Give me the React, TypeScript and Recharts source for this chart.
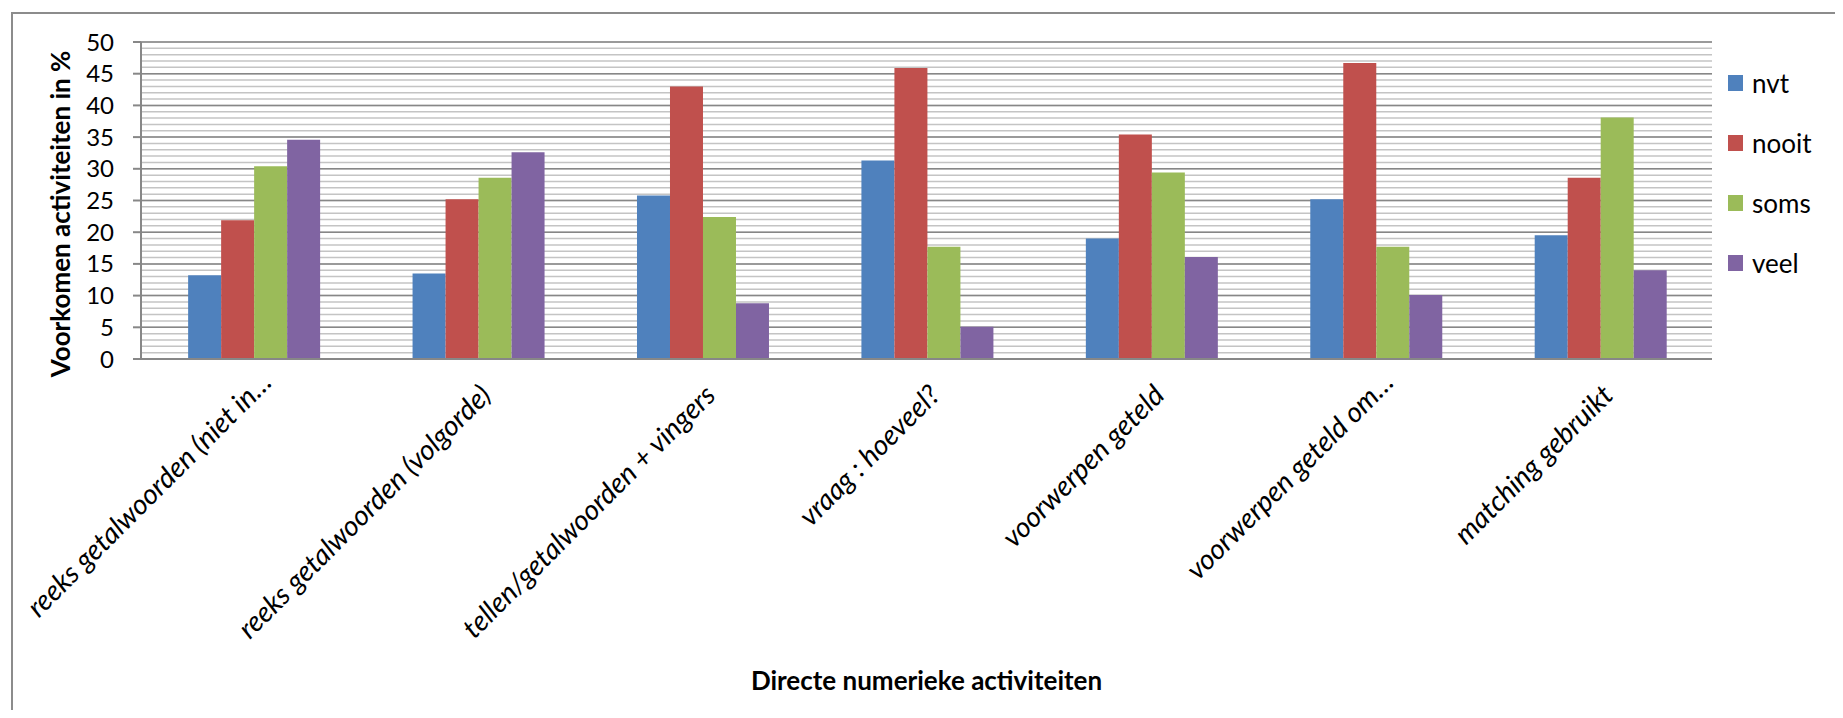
import { BarChart, Bar, XAxis, YAxis, CartesianGrid, Legend } from 'recharts';

const categories = [
  'reeks getalwoorden (niet in…',
  'reeks getalwoorden (volgorde)',
  'tellen/getalwoorden + vingers',
  'vraag : hoeveel?',
  'voorwerpen geteld',
  'voorwerpen geteld om…',
  'matching gebruikt',
];

const nvt = [13.2, 13.5, 25.8, 31.3, 19.0, 25.2, 19.5];
const nooit = [21.9, 25.2, 43.0, 45.9, 35.4, 46.7, 28.6];
const soms = [30.4, 28.6, 22.4, 17.7, 29.4, 17.7, 38.1];
const veel = [34.6, 32.6, 8.8, 5.1, 16.1, 10.1, 14.0];

const yTicks = [0, 5, 10, 15, 20, 25, 30, 35, 40, 45, 50];
// light helper lines at every whole percent
const minorLines = Array.from({ length: 51 }, (_, i) => i);

const series = [
  { key: 'nvt', name: 'nvt', color: '#4F81BD' },
  { key: 'nooit', name: 'nooit', color: '#C0504D' },
  { key: 'soms', name: 'soms', color: '#9BBB59' },
  { key: 'veel', name: 'veel', color: '#8064A2' },
];

const data = categories.map((name, i) => ({
  name,
  nvt: nvt[i],
  nooit: nooit[i],
  soms: soms[i],
  veel: veel[i],
}));

const FONT = 'Lato, "Open Sans", sans-serif';
const AXIS_GRAY = '#878787';
const LEGEND_W = 107;

function CategoryTick(props: any) {
  const { x, y, payload } = props;
  // shortened labels hang a bit closer to the axis
  const cut = String(payload.value).endsWith('…');
  const dx = cut ? 20 : 15;
  const dy = cut ? 25 : 38;
  return (
    <text
      transform={`translate(${x + dx}, ${y + dy}) rotate(-45)`}
      textAnchor="end"
      fontFamily={FONT}
      fontStyle="italic"
      fontSize={28}
      fill="#000"
    >
      {payload.value}
    </text>
  );
}

function YTitle() {
  return (
    <text
      transform="translate(62, 206) rotate(-90)"
      textAnchor="middle"
      fontFamily={FONT}
      fontWeight="bold"
      fontSize={26}
      fill="#000"
    >
      Voorkomen activiteiten in %
    </text>
  );
}

function LegendList() {
  return (
    <div style={{ fontFamily: FONT, fontSize: 26, color: '#000', width: LEGEND_W }}>
      {series.map((s) => (
        <div key={s.key} style={{ height: 60, display: 'flex', alignItems: 'center' }}>
          <span style={{ width: 15, height: 16, background: s.color, marginRight: 9 }} />
          <span>{s.name}</span>
        </div>
      ))}
    </div>
  );
}

export default function App() {
  return (
    <div style={{ position: 'relative', width: 1827, height: 702, fontFamily: FONT, background: '#fff' }}>
      <div
        style={{
          position: 'absolute',
          left: 3,
          top: 4,
          right: 0,
          bottom: 0,
          borderLeft: '2px solid #8c8c8c',
          borderTop: '2px solid #8c8c8c',
        }}
      />
      <BarChart
        width={1827}
        height={702}
        data={data}
        margin={{ top: 34, right: 123 - LEGEND_W, left: 0, bottom: 0 }}
        barCategoryGap="21%"
        barGap={0}
      >
        <CartesianGrid horizontal vertical={false} horizontalValues={minorLines} stroke="#c4c4c4" strokeWidth={1.5} />
        <CartesianGrid horizontal vertical={false} horizontalValues={yTicks} stroke={AXIS_GRAY} strokeWidth={1.5} />
        <XAxis
          dataKey="name"
          interval={0}
          height={351}
          tickSize={0}
          tickMargin={0}
          tickLine={false}
          axisLine={{ stroke: AXIS_GRAY, strokeWidth: 2 }}
          tick={<CategoryTick />}
          label={{
            value: 'Directe numerieke activiteiten',
            position: 'insideBottom',
            offset: 20,
            fill: '#000',
            fontFamily: FONT,
            fontWeight: 'bold',
            fontSize: 26,
          }}
        />
        <YAxis
          width={133}
          domain={[0, 50]}
          ticks={yTicks}
          interval={0}
          tickSize={8}
          tickMargin={19}
          tickLine={{ stroke: AXIS_GRAY, strokeWidth: 2 }}
          axisLine={{ stroke: AXIS_GRAY, strokeWidth: 2 }}
          tick={{ fill: '#000', fontSize: 24, fontFamily: FONT }}
          label={<YTitle />}
        />
        <Legend
          layout="vertical"
          align="right"
          verticalAlign="top"
          content={() => <LegendList />}
          wrapperStyle={{ left: 1720, top: 45, width: LEGEND_W }}
        />
        {series.map((s) => (
          <Bar key={s.key} dataKey={s.key} name={s.name} fill={s.color} isAnimationActive={false} />
        ))}
      </BarChart>
    </div>
  );
}
